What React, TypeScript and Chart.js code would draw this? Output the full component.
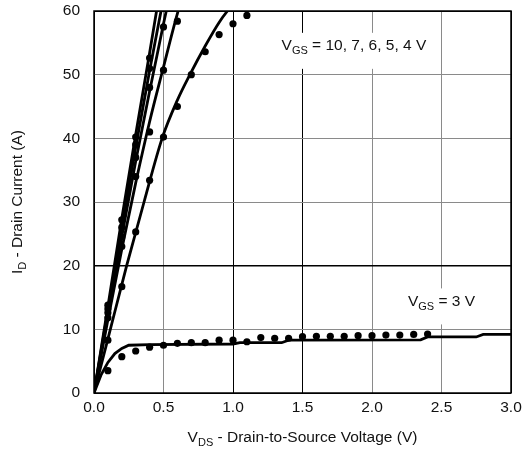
import React, { useEffect, useRef } from "react";
import { Chart, registerables } from "chart.js";
Chart.register(...registerables);

// Axis ticks
const xTickValues = [0, 0.5, 1.0, 1.5, 2.0, 2.5, 3.0];
const yTickValues = [0, 10, 20, 30, 40, 50, 60];

// Model lines (V_DS, I_D)
const lineVds10 = [0, 0.1, 0.2, 0.3, 0.4, 0.45, 0.5];
const lineId10 = [0, 13.6, 27.4, 40.6, 53.4, 60, 66];
const lineVds7 = [0, 0.1, 0.2, 0.3, 0.4, 0.5];
const lineId7 = [0, 13.0, 26.0, 38.6, 50.6, 62];
const lineVds6 = [0, 0.1, 0.2, 0.3, 0.4, 0.5, 0.55];
const lineId6 = [0, 12.4, 24.6, 36.4, 47.4, 58, 63];
const lineVds5 = [0, 0.1, 0.2, 0.3, 0.4, 0.5, 0.6, 0.65];
const lineId5 = [0, 11.5, 22.6, 33.0, 42.6, 51.2, 59.6, 63];
const lineVds4 = [0, 0.1, 0.235, 0.36, 0.49, 0.6, 0.69, 0.8, 0.9, 0.96, 1.0];
const lineId4 = [0, 8.5, 20, 30, 40, 46, 50, 54.5, 58.2, 60, 61];
const lineVds3 = [0, 0.05, 0.1, 0.15, 0.2, 0.25, 0.4, 1.0, 1.05, 1.35, 1.4, 2.35, 2.4, 2.75, 2.8, 3.0];
const lineId3 = [0, 2.8, 4.8, 6.2, 7.0, 7.5, 7.6, 7.7, 7.9, 7.9, 8.3, 8.35, 8.8, 8.8, 9.2, 9.2];

// Measured points (V_DS, I_D)
const dotVds10 = [0.1, 0.2, 0.3, 0.4];
const dotId10 = [13.8, 27.2, 40.2, 52.6];
const dotVds7 = [0.1, 0.2, 0.3, 0.4];
const dotId7 = [13.2, 26.0, 39.0, 51.0];
const dotVds6 = [0.1, 0.2, 0.3, 0.4, 0.5];
const dotId6 = [12.6, 24.5, 37.0, 48.0, 57.5];
const dotVds5 = [0.1, 0.2, 0.3, 0.4, 0.5, 0.6];
const dotId5 = [11.8, 23.0, 34.0, 41.0, 50.7, 58.4];
const dotVds4 = [0.1, 0.2, 0.3, 0.4, 0.5, 0.6, 0.7, 0.8, 0.9, 1.0, 1.1];
const dotId4 = [8.3, 16.7, 25.3, 33.4, 40.2, 45.0, 50.0, 53.6, 56.3, 58.0, 59.3];
const dotVds3 = [0.1, 0.2, 0.3, 0.4, 0.5, 0.6, 0.7, 0.8, 0.9, 1.0, 1.1, 1.2, 1.3, 1.4, 1.5, 1.6, 1.7, 1.8, 1.9, 2.0, 2.1, 2.2, 2.3, 2.4];
const dotId3 = [3.5, 5.7, 6.6, 7.2, 7.5, 7.8, 7.9, 7.9, 8.3, 8.3, 8.05, 8.7, 8.6, 8.6, 8.85, 8.9, 8.9, 8.9, 9.0, 9.0, 9.1, 9.1, 9.2, 9.25];

const labelTop = ["V", "GS", " = 10, 7, 6, 5, 4 V"];
const labelBottom = ["V", "GS", " = 3 V"];
const xTitle = ["V", "DS", " - Drain-to-Source Voltage (V)"];
const yTitle = ["I", "D", " - Drain Current (A)"];

const FONT = '"Liberation Sans", Arial, sans-serif';
const MAIN = 15.5;
const SUB = 11;

const zip = (xs: number[], ys: number[]) => xs.map((x, i) => ({ x, y: ys[i] }));

function measureParts(ctx: CanvasRenderingContext2D, parts: string[]) {
  let w = 0;
  parts.forEach((p, i) => {
    ctx.font = `${i === 1 ? SUB : MAIN}px ${FONT}`;
    w += ctx.measureText(p).width;
  });
  return w;
}

function drawParts(ctx: CanvasRenderingContext2D, parts: string[], left: number, baseline: number) {
  let x = left;
  parts.forEach((p, i) => {
    ctx.font = `${i === 1 ? SUB : MAIN}px ${FONT}`;
    ctx.fillText(p, x, baseline + (i === 1 ? 4 : 0));
    x += ctx.measureText(p).width;
  });
}

const decorPlugin = {
  id: "decor",
  beforeDatasetsDraw(chart: any) {
    const ctx: CanvasRenderingContext2D = chart.ctx;
    const xs = chart.scales.x;
    const ys = chart.scales.y;
    ctx.save();
    ctx.textBaseline = "alphabetic";
    ctx.textAlign = "left";
    // top label
    const w1 = measureParts(ctx, labelTop);
    const cx1 = xs.getPixelForValue(1.87);
    const by1 = ys.getPixelForValue(53.9);
    ctx.fillStyle = "#ffffff";
    ctx.fillRect(cx1 - w1 / 2 - 4, by1 - 17, w1 + 8, 36);
    ctx.fillStyle = "#111111";
    drawParts(ctx, labelTop, cx1 - w1 / 2, by1);
    // bottom label
    const w2 = measureParts(ctx, labelBottom);
    const cx2 = xs.getPixelForValue(2.5);
    const by2 = ys.getPixelForValue(13.6);
    ctx.fillStyle = "#ffffff";
    ctx.fillRect(cx2 - w2 / 2 - 4, by2 - 18, w2 + 8, 36);
    ctx.fillStyle = "#111111";
    drawParts(ctx, labelBottom, cx2 - w2 / 2, by2);
    ctx.restore();
  },
  afterDraw(chart: any) {
    const ctx: CanvasRenderingContext2D = chart.ctx;
    const a = chart.chartArea;
    ctx.save();
    ctx.strokeStyle = "#000000";
    ctx.lineWidth = 1.5;
    ctx.strokeRect(a.left, a.top, a.right - a.left, a.bottom - a.top);
    ctx.fillStyle = "#111111";
    ctx.textBaseline = "alphabetic";
    ctx.textAlign = "left";
    const wx = measureParts(ctx, xTitle);
    drawParts(ctx, xTitle, (a.left + a.right) / 2 - wx / 2, 442);
    const wy = measureParts(ctx, yTitle);
    ctx.translate(22, (a.top + a.bottom) / 2);
    ctx.rotate(-Math.PI / 2);
    drawParts(ctx, yTitle, -wy / 2, 0);
    ctx.restore();
  },
};

export default function App() {
  const ref = useRef<HTMLCanvasElement | null>(null);
  useEffect(() => {
    document.body.style.margin = "0";
    const canvas = ref.current!;
    const lineDs = (xs: number[], ys: number[], monotone = true) => ({
      type: "line" as const,
      data: zip(xs, ys),
      showLine: true,
      borderColor: "#000000",
      borderWidth: 2.8,
      pointRadius: 0,
      tension: monotone ? 0.4 : 0,
      cubicInterpolationMode: monotone ? ("monotone" as const) : ("default" as const),
      fill: false,
    });
    const dotDs = (xs: number[], ys: number[]) => ({
      type: "scatter" as const,
      data: zip(xs, ys),
      showLine: false,
      pointRadius: 3.6,
      pointBackgroundColor: "#000000",
      pointBorderWidth: 0,
      borderColor: "#000000",
    });
    const chart = new Chart(canvas, {
      type: "scatter",
      data: {
        datasets: [
          lineDs(lineVds10, lineId10),
          lineDs(lineVds7, lineId7),
          lineDs(lineVds6, lineId6),
          lineDs(lineVds5, lineId5),
          lineDs(lineVds4, lineId4),
          lineDs(lineVds3, lineId3, false),
          dotDs(dotVds10, dotId10),
          dotDs(dotVds7, dotId7),
          dotDs(dotVds6, dotId6),
          dotDs(dotVds5, dotId5),
          dotDs(dotVds4, dotId4),
          dotDs(dotVds3, dotId3),
        ] as any,
      },
      options: {
        animation: false,
        responsive: false,
        maintainAspectRatio: false,
        layout: { padding: { left: 0, right: 12, top: 11, bottom: 0 } },
        plugins: { legend: { display: false }, tooltip: { enabled: false } },
        scales: {
          x: {
            type: "linear",
            min: 0,
            max: 3,
            afterBuildTicks: (s: any) => {
              s.ticks = xTickValues.map((v) => ({ value: v }));
            },
            afterFit: (s: any) => {
              s.height = 56;
              s.paddingLeft = 0;
              s.paddingRight = 0;
              s.paddingTop = 0;
              s.paddingBottom = 0;
            },
            ticks: {
              padding: 5,
              color: "#111111",
              font: { family: FONT, size: MAIN },
              callback: (v: any) => Number(v).toFixed(1),
            },
            grid: {
              drawTicks: false,
              lineWidth: 1,
              color: (c: any) => {
                const v = c.tick ? c.tick.value : 0;
                return v === 1 || v === 1.5 || v === 0 || v === 3 ? "#000000" : "#8a8a8a";
              },
            },
            border: { display: false },
          },
          y: {
            type: "linear",
            min: 0,
            max: 60,
            afterBuildTicks: (s: any) => {
              s.ticks = yTickValues.map((v) => ({ value: v }));
            },
            afterFit: (s: any) => {
              s.width = 94;
              s.paddingLeft = 0;
              s.paddingRight = 0;
              s.paddingTop = 0;
              s.paddingBottom = 0;
            },
            ticks: {
              padding: 14,
              color: "#111111",
              font: { family: FONT, size: MAIN },
            },
            grid: {
              drawTicks: false,
              lineWidth: (c: any) => (c.tick && c.tick.value === 20 ? 1.6 : 1),
              color: (c: any) => {
                const v = c.tick ? c.tick.value : 0;
                return v === 20 || v === 0 || v === 60 ? "#000000" : "#8a8a8a";
              },
            },
            border: { display: false },
          },
        },
      },
      plugins: [decorPlugin],
    });
    return () => chart.destroy();
  }, []);
  return (
    <div style={{ width: 523, height: 449, background: "#ffffff" }}>
      <canvas ref={ref} width={523} height={449} style={{ display: "block", width: 523, height: 449 }} />
    </div>
  );
}
